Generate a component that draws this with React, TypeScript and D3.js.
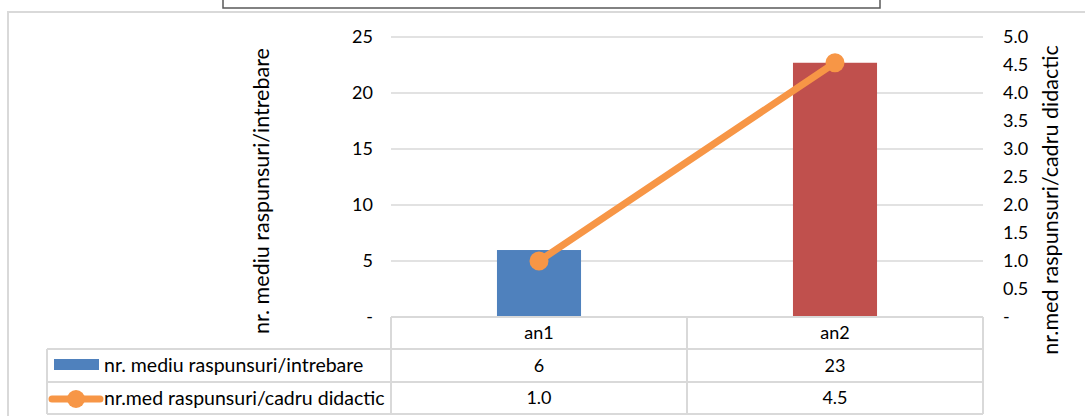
import React from "react";
import * as d3 from "d3";

const categories = ["an1", "an2"];
const barValues = [5.98, 22.7];
const lineValues = [1.0, 4.54];
const leftTicks = [0, 5, 10, 15, 20, 25];
const rightTicks = [0, 0.5, 1, 1.5, 2, 2.5, 3, 3.5, 4, 4.5, 5];
const barColors = ["#4F81BD", "#C0504D"];
const seriesNames = ["nr. mediu raspunsuri/intrebare", "nr.med raspunsuri/cadru didactic"];
const leftTitle = "nr. mediu raspunsuri/intrebare";
const rightTitle = "nr.med raspunsuri/cadru didactic";

const W = 1085;
const H = 416;
const FONT = "Lato, 'Open Sans', sans-serif";
const GRID = "#D9D9D9";
const ORANGE = "#F79646";

export default function App() {
  const plotLeft = 391, plotRight = 983, plotTop = 37, plotBottom = 317;
  const rowY = [317, 349, 382, 414];
  const legendLeft = 47;

  const x = d3.scaleBand<string>().domain(categories).range([plotLeft, plotRight]).paddingInner(0.716).paddingOuter(0.358);
  const cells = d3.scaleBand<string>().domain(categories).range([plotLeft, plotRight]).padding(0);
  const yL = d3.scaleLinear().domain([0, 25]).range([plotBottom, plotTop]);
  const yR = d3.scaleLinear().domain([0, 5]).range([plotBottom, plotTop]);

  const line = d3.line<number>()
    .x((_, i) => (cells(categories[i]) as number) + cells.bandwidth() / 2)
    .y((d) => yR(d));

  const fmtBar = d3.format(".0f");
  const fmtLine = d3.format(".1f");
  const fs = 18;
  const fsLeg = 19.5;
  const fsTitle = 21.5;

  return (
    <svg width={W} height={H} style={{ position: "absolute", left: 0, top: 0, background: "#fff" }} fontFamily={FONT}>
      {/* title box (cut off) */}
      <rect x={223} y={-30} width={657} height={38} fill="#fff" stroke="#595959" strokeWidth={1.5} />
      {/* chart area border */}
      <rect x={8} y={12} width={1100} height={420} fill="none" stroke={GRID} strokeWidth={2} />

      {/* gridlines */}
      {leftTicks.filter((t) => t > 0).map((t) => (
        <line key={t} x1={plotLeft} x2={plotRight} y1={yL(t)} y2={yL(t)} stroke={GRID} strokeWidth={1.5} />
      ))}

      {/* left tick labels */}
      {leftTicks.map((t) => (
        <text key={t} x={373} y={yL(t)} dy="0.35em" textAnchor="end" fontSize={fs} fill="#000">
          {t === 0 ? "-" : String(t)}
        </text>
      ))}
      {/* right tick labels */}
      {rightTicks.map((t) => (
        <text key={t} x={1003} y={yR(t)} dy="0.35em" textAnchor="start" fontSize={fs} fill="#000">
          {t === 0 ? "-" : d3.format(".1f")(t)}
        </text>
      ))}

      {/* axis titles */}
      <text transform={`translate(269,191) rotate(-90)`} textAnchor="middle" fontSize={fsTitle} fill="#000">{leftTitle}</text>
      <text transform={`translate(1058,200) rotate(-90)`} textAnchor="middle" fontSize={fsTitle} fill="#000">{rightTitle}</text>

      {/* bars */}
      {categories.map((c, i) => (
        <rect key={c} x={x(c)} y={yL(barValues[i])} width={x.bandwidth()} height={plotBottom - yL(barValues[i])} fill={barColors[i]} />
      ))}

      {/* line */}
      <path d={line(lineValues) || ""} fill="none" stroke={ORANGE} strokeWidth={7} strokeLinecap="round" />
      {lineValues.map((v, i) => (
        <circle key={i} cx={(cells(categories[i]) as number) + cells.bandwidth() / 2} cy={yR(v)} r={9.5} fill={ORANGE} />
      ))}

      {/* data table */}
      <g stroke={GRID} strokeWidth={2} fill="none">
        <line x1={plotLeft} x2={plotRight} y1={rowY[0]} y2={rowY[0]} />
        <line x1={legendLeft} x2={plotRight} y1={rowY[1]} y2={rowY[1]} />
        <line x1={legendLeft} x2={plotRight} y1={rowY[2]} y2={rowY[2]} />
        <line x1={legendLeft} x2={plotRight} y1={rowY[3]} y2={rowY[3]} />
        <line x1={legendLeft} x2={legendLeft} y1={rowY[1]} y2={rowY[3]} />
        {categories.map((c) => (
          <line key={c} x1={cells(c)} x2={cells(c)} y1={rowY[0]} y2={rowY[3]} />
        ))}
        <line x1={plotRight} x2={plotRight} y1={rowY[0]} y2={rowY[3]} />
      </g>
      {categories.map((c, i) => {
        const cx = (cells(c) as number) + cells.bandwidth() / 2;
        return (
          <g key={c} fontSize={fs} fill="#000" textAnchor="middle">
            <text x={cx} y={(rowY[0] + rowY[1]) / 2} dy="0.35em">{c}</text>
            <text x={cx} y={(rowY[1] + rowY[2]) / 2} dy="0.35em">{fmtBar(barValues[i])}</text>
            <text x={cx} y={(rowY[2] + rowY[3]) / 2} dy="0.35em">{fmtLine(lineValues[i])}</text>
          </g>
        );
      })}
      {/* legend keys */}
      <rect x={54} y={359} width={45} height={11} fill={barColors[0]} />
      <line x1={52} x2={100} y1={399} y2={399} stroke={ORANGE} strokeWidth={7} strokeLinecap="round" />
      <circle cx={76} cy={399} r={9} fill={ORANGE} />
      <text x={104} y={(rowY[1] + rowY[2]) / 2} dy="0.35em" fontSize={fsLeg} fill="#000">{seriesNames[0]}</text>
      <text x={104} y={(rowY[2] + rowY[3]) / 2} dy="0.35em" fontSize={fsLeg} fill="#000">{seriesNames[1]}</text>
    </svg>
  );
}
